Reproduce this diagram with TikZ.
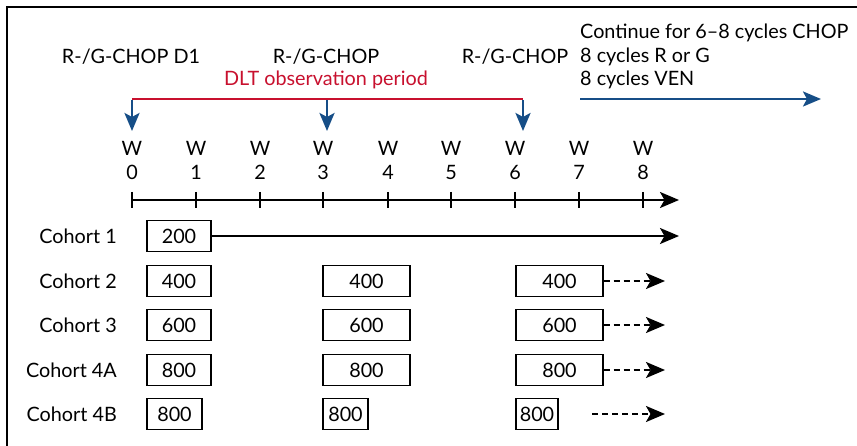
\documentclass[tikz,border=0pt]{standalone}
\usepackage{fontspec}
\setmainfont{Lato}
\usetikzlibrary{arrows.meta}
\definecolor{dltred}{RGB}{200,16,46}
\definecolor{cycblue}{RGB}{22,78,135}
\begin{document}
\begin{tikzpicture}[x=1pt,y=-1pt,
  txt/.style={inner sep=0pt,font=\fontsize{19.8}{23}\selectfont},
  dose/.style={draw,line width=1.3pt,minimum height=31pt,inner sep=0pt,font=\fontsize{19.8}{23}\selectfont},
  bluearr/.style={cycblue,line width=2.6pt,-{Stealth[length=18pt,width=15pt,inset=4pt]}},
  blackarr/.style={line width=2.2pt,-{Stealth[length=19pt,width=16pt,inset=4.5pt]}},
  dasharr/.style={line width=2.2pt,dash pattern=on 6pt off 4pt,-{Stealth[length=19pt,width=16pt,inset=4.5pt]}}]
\useasboundingbox (0,0) rectangle (857,446);
\fill[white] (0,0) rectangle (857,446);
% frame
\draw[line width=2pt] (7,446) -- (7,7) -- (857,7);
% top labels
\node[txt] (l1) at (131,57) {R-/G-CHOP D1};
\node[txt] (l2) at (326,57) {R-/G-CHOP};
\node[txt] (l3) at (515,57) {R-/G-CHOP};
\node[txt,dltred] (dlt) at (326,80) {DLT observation period};
\node[txt,anchor=west] (c1) at (580,33) {Continue for 6–8 cycles CHOP};
\node[txt,anchor=west] (c2) at (580,57) {8 cycles R or G};
\node[txt,anchor=west] (c3) at (580,80) {8 cycles VEN};
% DLT bracket
\coordinate (r0) at (132,99);
\coordinate (r3) at (327,99);
\coordinate (r6) at (523,99);
\coordinate (a0) at (132,131);
\coordinate (a3) at (327,131);
\coordinate (a6) at (523,131);
\draw[dltred,line width=2.6pt] (r0) -- (r6);
\draw[bluearr] ([yshift=-1.3pt]r0) -- (a0);
\draw[bluearr] ([yshift=-1.3pt]r3) -- (a3);
\draw[bluearr] ([yshift=-1.3pt]r6) -- (a6);
\coordinate (bs) at (580,99);
\coordinate (be) at (821,99);
\draw[bluearr] (bs) -- (be);
% week labels and axis
\foreach \i/\x in {0/132,1/196,2/260,3/323,4/388,5/451,6/515,7/579,8/643}{
  \node[txt] (w\i) at (\x,148) {W};
  \node[txt] (n\i) at (\x,172) {\i};
  \draw[line width=1.6pt] (\x,192) -- (\x,208);
}
\coordinate (ax0) at (132,200);
\coordinate (ax1) at (679,200);
\draw[blackarr] (ax0) -- (ax1);
% cohorts
\foreach \i/\y/\t in {1/236/Cohort 1,2/281/Cohort 2,3/325/Cohort 3,4/370/Cohort 4A,5/414/Cohort 4B}{
  \node[txt,anchor=east] (co\i) at (117,\y) {\t};
}
% cohort 1
\node[dose,minimum width=64pt] (b11) at (179,236) {200};
\coordinate (e1) at (679,236);
\draw[blackarr] (b11.east) -- (e1);
% cohorts 2-4A
\foreach \i/\y/\d in {2/281/400,3/325/600,4/370/800}{
  \node[dose,minimum width=64pt] (b\i1) at (179,\y) {\d};
  \node[dose,minimum width=87pt] (b\i2) at (366.5,\y) {\d};
  \node[dose,minimum width=87pt] (b\i3) at (559.5,\y) {\d};
  \coordinate (e\i) at (665,\y);
  \draw[dasharr] (b\i3.east) -- (e\i);
}
% cohort 4B
\node[dose,minimum width=55pt] (b51) at (174.5,414) {800};
\node[dose,minimum width=45pt] (b52) at (345.5,414) {800};
\node[dose,minimum width=42pt] (b53) at (537,414) {800};
\coordinate (s5) at (592,414);
\coordinate (e5) at (665,414);
\draw[dasharr] (s5) -- (e5);
\end{tikzpicture}
\end{document}
